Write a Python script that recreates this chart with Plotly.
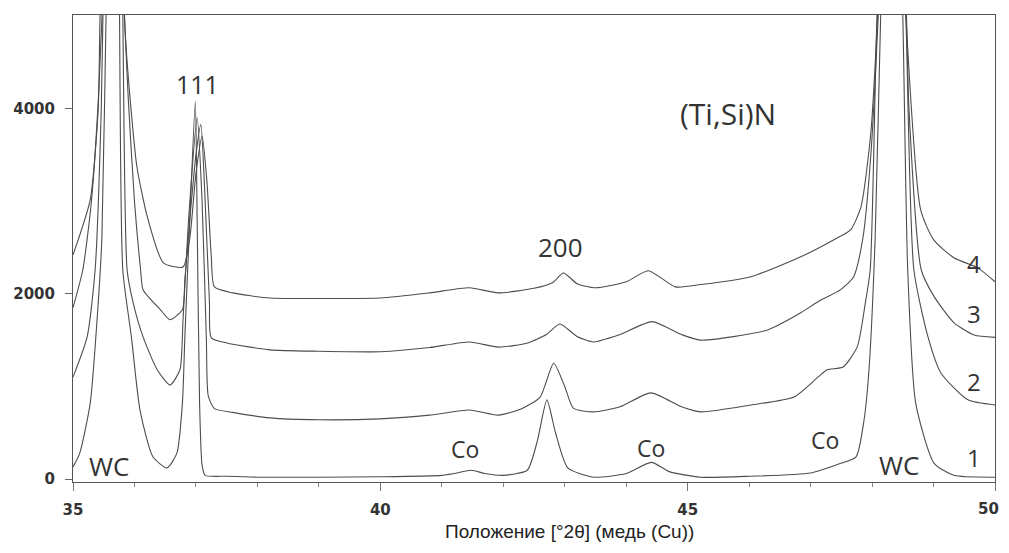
import plotly.graph_objects as go

# ---- data (2theta in degrees, intensity in counts) ----
x1 = [35.0, 35.11, 35.28, 35.41, 35.47, 35.55, 35.65, 35.75, 35.81, 35.95, 36.09, 36.3, 36.53, 36.69, 36.78,
      36.82, 36.9, 36.99, 37.02, 37.06, 37.1, 37.15, 37.5, 38.0, 39.0, 40.0, 41.0, 41.2, 41.48, 41.7, 42.0,
      42.39, 42.55, 42.71, 42.85, 43.05, 43.47, 44.0, 44.41, 44.7, 45.21, 46.0, 47.0, 47.49, 47.74, 47.87,
      47.95, 48.05, 48.14, 48.33, 48.5, 48.58, 48.71, 49.01, 49.33, 50.0]
y1 = [130, 280, 820, 1900, 2600, 5500, 9000, 5500, 2260, 1535, 745, 240, 120, 280, 820,
      1535, 2800, 4080, 2800, 800, 150, 40, 30, 20, 20, 25, 40, 60, 95, 60, 40,
      95, 400, 855, 500, 120, 20, 60, 180, 80, 20, 30, 65, 170, 240, 640,
      1180, 2600, 5000, 9000, 5000, 2260, 820, 170, 40, 20]

x2 = [35.0, 35.23, 35.36, 35.46, 35.5, 35.65, 35.8, 35.88, 35.98, 36.14, 36.37, 36.58, 36.74, 36.79, 36.88,
      37.02, 37.1, 37.17, 37.2, 37.3, 37.6, 38.2, 39.0, 40.0, 40.8, 41.45, 41.92, 42.3, 42.6, 42.82, 43.0,
      43.14, 43.47, 43.9, 44.4, 44.9, 45.21, 46.03, 46.73, 47.12, 47.27, 47.53, 47.76, 47.89, 47.97, 48.08,
      48.33, 48.55, 48.68, 48.91, 49.12, 49.56, 50.0]
y2 = [1100, 1535, 2260, 4000, 5500, 9000, 5500, 2260, 1900, 1535, 1180, 1015, 1180, 1720, 2800,
      3900, 3000, 1500, 900, 760, 720, 660, 640, 650, 690, 745, 690, 760, 885, 1250, 1000,
      765, 725, 780, 930, 780, 725, 800, 885, 1100, 1180, 1210, 1430, 1900, 2260, 5000,
      9000, 5000, 2260, 1535, 1145, 855, 800]

x3 = [35.0, 35.16, 35.3, 35.42, 35.5, 35.65, 35.8, 35.85, 35.9, 36.0, 36.1, 36.14, 36.42, 36.58, 36.78,
      36.82, 36.9, 37.0, 37.08, 37.15, 37.22, 37.25, 37.5, 38.2, 39.0, 40.0, 40.8, 41.45, 41.92, 42.4,
      42.7, 42.92, 43.2, 43.47, 43.9, 44.42, 44.9, 45.21, 46.3, 46.84, 47.12, 47.49, 47.7, 47.85, 47.98,
      48.1, 48.33, 48.56, 48.6, 48.8, 49.01, 49.33, 49.66, 50.0]
y3 = [1850, 2260, 3000, 4200, 5500, 9000, 5500, 4800, 4100, 3000, 2260, 2045, 1830, 1720, 1830,
      2150, 2800, 3500, 3830, 3000, 1900, 1525, 1470, 1395, 1380, 1375, 1420, 1480, 1425, 1470,
      1560, 1675, 1540, 1480, 1560, 1700, 1560, 1500, 1610, 1795, 1915, 2045, 2185, 2600, 3500,
      5000, 9000, 5000, 4000, 2260, 1970, 1690, 1555, 1530]

x4 = [35.0, 35.28, 35.41, 35.44, 35.65, 35.85, 35.93, 36.04, 36.21, 36.47, 36.79, 36.9, 37.0, 37.1, 37.18,
      37.25, 37.3, 37.6, 38.2, 39.0, 40.0, 40.8, 41.45, 41.92, 42.5, 42.8, 42.98, 43.2, 43.5, 44.0,
      44.36, 44.8, 45.21, 46.03, 46.84, 47.38, 47.65, 47.82, 47.98, 48.09, 48.33, 48.55, 48.79, 49.0,
      49.33, 49.72, 50.0]
y4 = [2420, 3015, 3990, 5000, 9000, 4820, 4100, 3370, 2830, 2335, 2290, 2600, 3300, 3700, 3200,
      2400, 2075, 2010, 1955, 1950, 1955, 2010, 2065, 2010, 2060, 2120, 2225, 2110, 2065, 2130,
      2250, 2075, 2100, 2185, 2400, 2585, 2690, 2940, 3740, 5000, 9000, 5000, 2910, 2585,
      2390, 2280, 2130]

series_x = [x1, x2, x3, x4]
series_y = [y1, y2, y3, y4]

x_ticks = [35, 40, 45, 50]
x_ticklabels = ["35", "40", "45", ""]   # "50" is drawn separately, nudged inside the page
last_x_label = "50"
y_ticks = [0, 2000, 4000]

x_title = "Положение [°2θ] (медь (Cu))"

# annotations: (text, x, y, size)
labels = [
    ("111", 37.02, 4270, 25),
    ("(Ti,Si)N", 45.65, 3950, 30),
    ("200", 42.93, 2510, 26),
    ("WC", 35.59, 140, 26),
    ("WC", 48.44, 150, 26),
    ("Co", 41.37, 320, 23),
    ("Co", 44.40, 340, 23),
    ("Co", 47.23, 420, 23),
    ("4", 49.66, 2325, 24),
    ("3", 49.66, 1790, 24),
    ("2", 49.66, 1050, 24),
    ("1", 49.66, 230, 24),
]

# the page body has an 8px margin, so the figure is sized/offset to compensate
W, H = 1001, 545
ML, MR, MT, MB = 65, 14, 7, 71
PW, PH = W - ML - MR, H - MT - MB

fig = go.Figure()
for xs, ys in zip(series_x, series_y):
    fig.add_trace(go.Scatter(x=xs, y=ys, mode="lines",
                             line=dict(color="#4d4d4d", width=1.1, shape="spline", smoothing=0.6),
                             showlegend=False, hoverinfo="skip"))

for text, lx, ly, sz in labels:
    fig.add_annotation(x=lx, y=ly, text=text, showarrow=False,
                       font=dict(family="Open Sans, Noto Sans, sans-serif", size=sz, color="#333333"))

# x-axis title, placed as in the reference (slightly right of centre)
tx, ty = 569 - 8, 531 - 8
fig.add_annotation(xref="paper", yref="paper",
                   x=(tx - ML) / PW, y=-(ty - (H - MB)) / PH,
                   text=x_title, showarrow=False, xanchor="center", yanchor="middle",
                   font=dict(family="Liberation Sans Narrow, Liberation Sans, sans-serif", size=19, color="#222222"))

# last x tick label, shifted left a little as in the reference
lx_px, ly_px = 988 - 8, 509 - 8
fig.add_annotation(xref="paper", yref="paper",
                   x=(lx_px - ML) / PW, y=-(ly_px - (H - MB)) / PH,
                   text=last_x_label, showarrow=False, xanchor="center", yanchor="middle",
                   font=dict(family="DejaVu Sans", size=15, color="#333333", weight="bold"))

fig.update_layout(
    width=W, height=H,
    margin=dict(l=ML, r=MR, t=MT, b=MB),
    paper_bgcolor="white", plot_bgcolor="white",
)
fig.update_xaxes(
    range=[35, 50], tickvals=x_ticks, ticktext=x_ticklabels,
    automargin=False,
    showgrid=False, zeroline=False,
    showline=True, linecolor="#555555", linewidth=1, mirror=True,
    ticks="outside", ticklen=8, tickcolor="#777777",
    minor=dict(dtick=1, ticks="outside", ticklen=4, tickcolor="#888888", showgrid=False),
    tickfont=dict(family="DejaVu Sans", size=15, color="#333333", weight="bold"),
    ticklabelstandoff=6,
)
fig.update_yaxes(
    range=[-32, 5011], tickvals=y_ticks, ticktext=[str(v) for v in y_ticks],
    automargin=False,
    showgrid=False, zeroline=False,
    showline=True, linecolor="#555555", linewidth=1, mirror=True,
    ticks="outside", ticklen=7, tickcolor="#666666",
    tickfont=dict(family="DejaVu Sans", size=15, color="#333333", weight="bold"),
    ticklabelstandoff=7,
)

fig.write_html("out.html")
